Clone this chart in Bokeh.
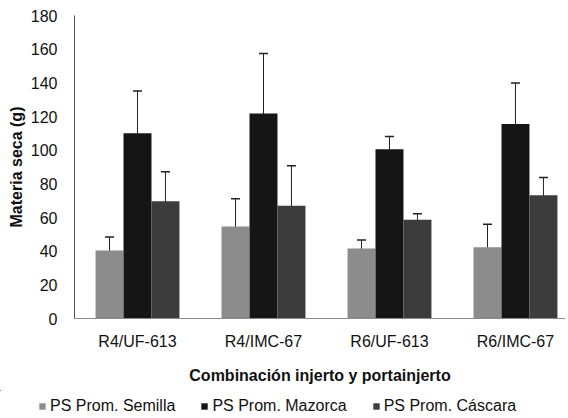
from bokeh.plotting import figure
from bokeh.models import Range1d, FixedTicker, Whisker, ColumnDataSource, Legend, LegendItem, TeeHead
from bokeh.layouts import column
from bokeh.embed import file_html
from bokeh.resources import INLINE

categories = ["R4/UF-613", "R4/IMC-67", "R6/UF-613", "R6/IMC-67"]
series = ["PS Prom. Semilla", "PS Prom. Mazorca", "PS Prom. Cáscara"]
semilla = [40.4, 54.6, 41.6, 42.4]
semilla_err = [8.0, 16.5, 5.0, 13.6]
mazorca = [110.0, 121.8, 100.5, 115.5]
mazorca_err = [25.2, 35.6, 7.6, 24.4]
cascara = [69.7, 67.0, 58.6, 73.2]
cascara_err = [17.5, 23.7, 3.7, 10.5]
y_ticks = [0, 20, 40, 60, 80, 100, 120, 140, 160, 180]

colors = ["#8c8c8c", "#151515", "#3c3c3c"]
values = [semilla, mazorca, cascara]
errors = [semilla_err, mazorca_err, cascara_err]

FONT = "Liberation Sans"

p = figure(width=565, height=390, output_backend="svg", toolbar_location=None,
           x_range=Range1d(0, 3.897), y_range=Range1d(0, 180),
           min_border_left=74, min_border_top=15, min_border_right=0, min_border_bottom=72,
           border_fill_color="white")
p.outline_line_color = None
p.xgrid.visible = False
p.ygrid.visible = False

# legend strip (its own figure, so the legend can sit left of the plot frame)
lg = figure(width=565, height=25, output_backend="svg", toolbar_location=None,
            x_range=Range1d(100, 101), y_range=Range1d(-1001, -1000),
            min_border_left=0, min_border_right=0, min_border_top=0, min_border_bottom=0,
            background_fill_color="white", border_fill_color="white")
lg.frame_align = False
lg.axis.visible = False
lg.grid.visible = False
lg.outline_line_color = None

bw = 0.222
offsets = [-bw, 0.0, bw]
items = []
for s, vals, errs, col, off in zip(series, values, errors, colors, offsets):
    xs = [i + 0.5 + off for i in range(len(categories))]
    src = ColumnDataSource(dict(x=xs, top=vals,
                                lower=[v - e for v, e in zip(vals, errs)],
                                upper=[v + e for v, e in zip(vals, errs)]))
    p.vbar(x="x", top="top", width=bw, source=src, fill_color=col, line_color=None)
    w = Whisker(base="x", lower="lower", upper="upper", source=src,
                line_color="#222222", line_width=1,
                upper_head=TeeHead(size=9, line_color="#222222", line_width=1.5),
                lower_head=TeeHead(size=9, line_color="#222222", line_width=1.5))
    p.add_layout(w)
    # same bars in the legend strip, far outside its visible ranges: only the legend swatch shows
    r = lg.vbar(x="x", top="top", width=bw, source=src, fill_color=col, line_color=None)
    items.append(LegendItem(label=s, renderers=[r]))

p.xaxis.ticker = FixedTicker(ticks=[i + 0.5 for i in range(len(categories))])
p.xaxis.major_label_overrides = {i + 0.5: c for i, c in enumerate(categories)}
p.yaxis.ticker = FixedTicker(ticks=y_ticks)

for ax in (p.xaxis, p.yaxis):
    ax.major_tick_line_color = None
    ax.minor_tick_line_color = None
    ax.major_label_text_font = FONT
    ax.major_label_text_font_size = "16px"
    ax.major_label_text_color = "#111111"
    ax.axis_label_text_font = FONT
    ax.axis_label_text_font_style = "bold"
    ax.axis_label_text_font_size = "16px"
    ax.axis_label_text_color = "#111111"

p.xaxis.axis_line_color = "#8a8a8a"
p.yaxis.axis_line_color = "#555555"
p.xaxis.axis_label = "Combinación injerto y portainjerto"
p.yaxis.axis_label = "Materia seca (g)"
p.xaxis.major_label_standoff = 8
p.xaxis.axis_label_standoff = 14
p.yaxis.major_label_standoff = 11
p.yaxis.axis_label_standoff = 3

legend = Legend(items=items, orientation="horizontal", location=(38, 0),
                glyph_width=8, glyph_height=8, label_standoff=4, spacing=25,
                padding=0, margin=0, border_line_color=None, background_fill_alpha=0,
                label_text_font=FONT, label_text_font_size="16px", label_text_color="#111111")
lg.add_layout(legend, "center")

open("out.html", "w").write(file_html(column(p, lg, spacing=0), INLINE))
